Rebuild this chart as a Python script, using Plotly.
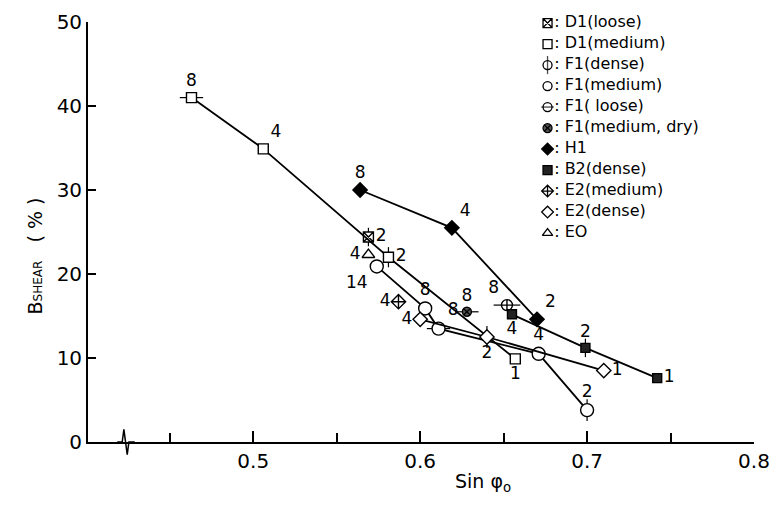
import plotly.graph_objects as go

# ---------------- data ----------------
d1_loose_x = [0.569]; d1_loose_y = [24.4]; d1_loose_lab = ["2"]
d1_med_x = [0.463, 0.506, 0.581, 0.657]; d1_med_y = [41.0, 34.9, 22.0, 9.9]; d1_med_lab = ["8", "4", "2", "1"]
f1_dense_x = [0.652]; f1_dense_y = [16.3]; f1_dense_lab = ["8"]
f1_med_x = [0.574, 0.603, 0.611, 0.671, 0.700]; f1_med_y = [20.9, 15.9, 13.5, 10.5, 3.8]; f1_med_lab = ["14", "8", "8", "4", "2"]
f1_dry_x = [0.628]; f1_dry_y = [15.5]; f1_dry_lab = ["8"]
h1_x = [0.564, 0.619, 0.670]; h1_y = [30.0, 25.5, 14.6]; h1_lab = ["8", "4", "2"]
b2_x = [0.655, 0.699, 0.742]; b2_y = [15.2, 11.2, 7.6]; b2_lab = ["4", "2", "1"]
e2_med_x = [0.587]; e2_med_y = [16.7]; e2_med_lab = ["4"]
e2_dense_x = [0.600, 0.640, 0.710]; e2_dense_y = [14.6, 12.5, 8.5]; e2_dense_lab = ["4", "2", "1"]
eo_x = [0.569]; eo_y = [22.3]; eo_lab = ["4"]

x_ticks = [0.5, 0.6, 0.7, 0.8]
y_ticks = [0, 10, 20, 30, 40, 50]

# legend key (series names and their symbols)
leg_names = ["D1(loose)", "D1(medium)", "F1(dense)", "F1(medium)", "F1( loose)",
             "F1(medium, dry)", "H1", "B2(dense)", "E2(medium)", "E2(dense)", "EO"]
leg_symbols = ["square-x", "square", "circle", "circle", "circle", "circle-x",
               "diamond", "square", "diamond-cross", "diamond", "triangle-up"]
leg_fills = ["white", "white", "white", "white", "white", "#555",
             "black", "#222", "white", "white", "white"]
leg_overlay = [None, None, "line-ns", None, "line-ew", None, None, None, None, None, None]

FONT = "DejaVu Sans"
fig = go.Figure()

def series(xs, ys, labs, symbol, pos, fill="white", size=10, line=False, ex=None, ey=None):
    if line:
        fig.add_trace(go.Scatter(x=xs, y=ys, mode="lines", showlegend=False,
                                 line=dict(color="black", width=1.8), hoverinfo="skip"))
    tr = dict(x=xs, y=ys, mode="markers+text", showlegend=False, text=labs,
              textposition=pos, textfont=dict(family=FONT, size=17, color="black"),
              marker=dict(symbol=symbol, size=size, color=fill,
                          line=dict(color="black", width=1.4)))
    if ex is not None:
        tr["error_x"] = dict(type="data", array=ex, visible=True, thickness=1.2, width=0, color="black")
    if ey is not None:
        tr["error_y"] = dict(type="data", array=ey, visible=True, thickness=1.2, width=0, color="black")
    fig.add_trace(go.Scatter(**tr))

series(d1_loose_x, d1_loose_y, d1_loose_lab, "square-x", ["middle right"], ey=[1.1])
series(d1_med_x, d1_med_y, d1_med_lab, "square",
       ["top center", "top right", "middle right", "bottom center"], line=True,
       ex=[0.007, 0, 0, 0], ey=[0, 0, 1.2, 0])
series(f1_dense_x, f1_dense_y, f1_dense_lab, "circle-cross", ["top left"], size=11, ex=[0.008])
series(f1_med_x, f1_med_y, f1_med_lab, "circle",
       ["bottom left", "top center", "top right", "top center", "top center"], size=13, line=True,
       ex=[0, 0, 0.007, 0, 0], ey=[0, 0, 0, 0, 1.3])
series(f1_dry_x, f1_dry_y, f1_dry_lab, "circle-x", ["top center"], fill="#555", size=9, ex=[0.007])
series(h1_x, h1_y, h1_lab, "diamond", ["top center", "top right", "top right"], fill="black",
       size=11, line=True)
series(b2_x, b2_y, b2_lab, "square", ["bottom center", "top center", "middle right"],
       fill="#222", size=9, line=True, ey=[0, 1.1, 0])
series(e2_med_x, e2_med_y, e2_med_lab, "diamond-cross", ["middle left"], size=11)
series(e2_dense_x, e2_dense_y, e2_dense_lab, "diamond",
       ["middle left", "bottom center", "middle right"], size=11, line=True, ey=[0, 1.3, 0])
series(eo_x, eo_y, eo_lab, "triangle-up", ["middle left"], size=11)

# legend key drawn on its own hidden axes (row index -> vertical position)
idx = list(range(len(leg_names)))
fig.add_trace(go.Scatter(
    x=[0] * len(idx), y=idx, xaxis="x2", yaxis="y2", mode="markers+text",
    text=[": " + n for n in leg_names], textposition="middle right",
    textfont=dict(family=FONT, size=16, color="black"), cliponaxis=False, showlegend=False,
    marker=dict(symbol=leg_symbols, size=9, color=leg_fills, line=dict(color="black", width=1.3))))
ov = [i for i in idx if leg_overlay[i]]
fig.add_trace(go.Scatter(
    x=[0] * len(ov), y=ov, xaxis="x2", yaxis="y2", mode="markers", cliponaxis=False,
    showlegend=False,
    marker=dict(symbol=[leg_overlay[i] for i in ov], size=[13 if leg_overlay[i] == "line-ns" else 9 for i in ov],
                line=dict(color="black", width=1.3))))

# axis break zig-zag on the x axis
fig.add_shape(type="path", xref="x", yref="paper",
              path="M 0.4185 0 L 0.4215 0 L 0.4225 0.03 L 0.4245 -0.03 L 0.4255 0 L 0.429 0",
              line=dict(color="black", width=1.5), fillcolor="rgba(0,0,0,0)")

fig.update_layout(
    width=770, height=515,
    margin=dict(l=88, r=16, t=22, b=73, autoexpand=False),
    paper_bgcolor="white", plot_bgcolor="rgba(0,0,0,0)",
    font=dict(family=FONT, color="black"),
    showlegend=False,
    xaxis=dict(range=[0.401, 0.8], domain=[0, 1], tickvals=x_ticks, ticktext=[str(v) for v in x_ticks],
               ticks="inside", ticklen=11, tickwidth=1.5, tickcolor="black",
               minor=dict(tickvals=[0.45, 0.55, 0.65, 0.75], ticks="inside", ticklen=9,
                          tickwidth=1.5, tickcolor="black"),
               showline=True, linecolor="black", linewidth=1.8, showgrid=False, zeroline=False,
               tickfont=dict(size=20, family=FONT)),
    yaxis=dict(range=[0, 50], domain=[0, 1], tickvals=y_ticks, ticks="inside", ticklen=8, tickwidth=1.5,
               tickcolor="black", showline=True, linecolor="black", linewidth=1.8,
               showgrid=False, zeroline=False, tickfont=dict(size=20, family=FONT)),
    xaxis2=dict(domain=[0.69, 1.0], range=[0, 1], anchor="y2", visible=False, fixedrange=True),
    yaxis2=dict(domain=[0.47, 1.0], range=[10.55, -0.05], anchor="x2", visible=False, fixedrange=True),
    annotations=[
        dict(xref="paper", yref="paper", x=-0.099, y=0.442, textangle=-90, showarrow=False,
             text='B<span style="font-size:12px">SHEAR</span>   ( % )',
             font=dict(size=19, family=FONT)),
        dict(xref="paper", yref="paper", x=0.593, y=-0.132, showarrow=False,
             text="Sin φ<sub>o</sub>", font=dict(size=19, family=FONT)),
    ],
)

fig.write_html("out.html")
